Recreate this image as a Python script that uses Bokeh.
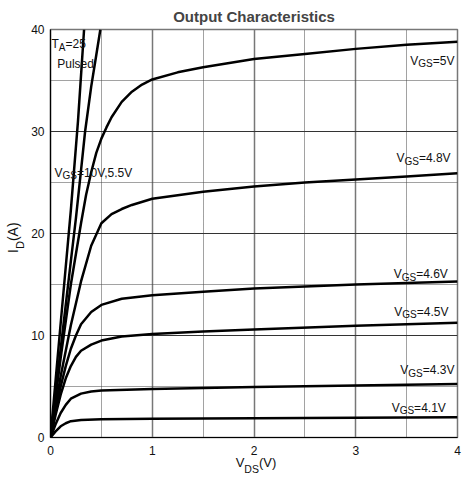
import math
from bokeh.plotting import figure
from bokeh.models import FixedTicker, Label, Range1d, LinearAxis
from bokeh.embed import file_html
from bokeh.resources import INLINE

# ---------------- data ----------------
x_ticks = [0, 1, 2, 3, 4]
x_minor = [0.5, 1.5, 2.5, 3.5]
y_ticks = [0, 10, 20, 30, 40]
y_minor = [5, 15, 25, 35]

vds_10v = [0, 0.1, 0.2, 0.27, 0.33]
id_10v = [0, 11.2, 22.3, 31.0, 40.0]

vds_55v = [0, 0.1, 0.2, 0.25, 0.3, 0.34, 0.4, 0.45, 0.49]
id_55v = [0, 8.7, 17.3, 21.5, 26.2, 30.0, 34.4, 37.5, 40.0]

vds_5v = [0, 0.1, 0.2, 0.3, 0.35, 0.4, 0.45, 0.5, 0.55, 0.6, 0.7, 0.8, 0.9, 1.0,
          1.25, 1.5, 2.0, 2.5, 3.0, 3.5, 4.0]
id_5v = [0, 7.8, 15.0, 21.0, 23.8, 26.0, 27.9, 29.3, 30.4, 31.4, 32.9, 33.9, 34.6, 35.1,
         35.8, 36.3, 37.1, 37.6, 38.1, 38.5, 38.8]

vds_48v = [0, 0.1, 0.2, 0.3, 0.4, 0.5, 0.6, 0.7, 0.8, 1.0, 1.5, 2.0, 2.5, 3.0, 3.5, 4.0]
id_48v = [0, 6.0, 11.0, 15.3, 18.8, 21.0, 21.9, 22.4, 22.8, 23.4, 24.1, 24.6, 25.0, 25.3, 25.6, 25.9]

vds_46v = [0, 0.05, 0.1, 0.15, 0.2, 0.25, 0.3, 0.4, 0.5, 0.7, 1.0, 1.5, 2.0, 3.0, 4.0]
id_46v = [0, 2.6, 5.0, 7.0, 8.7, 10.0, 11.1, 12.3, 13.0, 13.6, 13.95, 14.3, 14.6, 15.0, 15.3]

vds_45v = [0, 0.05, 0.1, 0.15, 0.2, 0.25, 0.3, 0.4, 0.5, 0.7, 1.0, 1.5, 2.0, 3.0, 4.0]
id_45v = [0, 2.2, 4.2, 5.8, 7.0, 7.9, 8.5, 9.1, 9.5, 9.9, 10.15, 10.4, 10.6, 10.95, 11.25]

vds_43v = [0, 0.05, 0.1, 0.15, 0.2, 0.3, 0.4, 0.5, 1.0, 2.0, 3.0, 4.0]
id_43v = [0, 1.3, 2.4, 3.2, 3.8, 4.3, 4.5, 4.6, 4.75, 4.95, 5.1, 5.25]

vds_41v = [0, 0.05, 0.1, 0.15, 0.2, 0.3, 0.5, 1.0, 2.0, 3.0, 4.0]
id_41v = [0, 0.6, 1.1, 1.4, 1.6, 1.72, 1.78, 1.83, 1.88, 1.93, 1.98]

curve_labels = ["=5V", "=4.8V", "=4.6V", "=4.5V", "=4.3V", "=4.1V", "=10V,5.5V"]
label_x = [3.536, 3.40, 3.373, 3.379, 3.438, 3.353, 0.039]
label_y = [36.93, 27.4, 16.0, 12.32, 6.61, 2.94, 25.98]

title_text = "Output Characteristics"
x_title = ("V", "DS", "(V)")
y_title = ("I", "D", "(A)")

# ---------------- figure ----------------
FONT = "Liberation Sans"
FW, FH = 407, 408
p = figure(output_backend="svg", toolbar_location=None,
           frame_width=FW, frame_height=FH,
           min_border_left=50, min_border_right=5, min_border_top=29, min_border_bottom=40,
           x_range=Range1d(0, 4), y_range=Range1d(0, 40),
           background_fill_color="white", border_fill_color="white")
PXX = FW / 4.0   # px per x unit
PXY = FH / 40.0  # px per y unit

p.title.text = title_text
p.title.align = "center"
p.title.text_font = FONT
p.title.text_font_size = "15px"
p.title.text_font_style = "bold"
p.title.standoff = 10

p.outline_line_color = "#777777"
p.outline_line_width = 1.5

W = {"V": .667, "G": .778, "S": .667, "=": .584, ".": .278, ",": .278, "T": .611,
     "A": .667, "D": .722, "I": .278, "(": .333, ")": .333}
for d in "0123456789":
    W[d] = .556


def tw(s, size):
    return sum(W.get(c, .556) for c in s) * size


def plain_axis(ax, size):
    ax.axis_line_color = None
    ax.major_tick_out = 0
    ax.major_tick_in = 0
    ax.minor_tick_out = 0
    ax.minor_tick_in = 0
    ax.major_label_text_font = FONT
    ax.major_label_text_font_size = f"{size}px"
    ax.major_label_text_color = "#111111"


xa = p.xaxis[0]
ya = p.yaxis[0]
plain_axis(xa, 12)
plain_axis(ya, 12)
xa.axis_line_color = "black"
ya.axis_line_color = "black"
xa.axis_line_width = 1.2
ya.axis_line_width = 1.2
xa.ticker = FixedTicker(ticks=x_ticks)
xa.major_label_standoff = 8
ya.ticker = FixedTicker(ticks=y_ticks)
ya.major_label_standoff = 6

p.xgrid[0].ticker = FixedTicker(ticks=x_ticks, minor_ticks=x_minor)
p.ygrid[0].ticker = FixedTicker(ticks=y_ticks, minor_ticks=y_minor)
p.xgrid[0].grid_line_color = "#777777"
p.xgrid[0].grid_line_width = 1.5
p.ygrid[0].grid_line_color = "#333333"
p.ygrid[0].grid_line_width = 1
for g in (p.xgrid[0], p.ygrid[0]):
    g.minor_grid_line_color = "#444444"
    g.minor_grid_line_dash = "1 1"
    g.minor_grid_line_width = 1

# ----- axis titles with subscripts, built from extra label-only axes -----
x0 = 1.82
xs_V = x0 + tw("V", 13) / 2 / PXX
xs_DS = x0 + (tw("V", 13) + tw("DS", 10.5) / 2) / PXX
xs_P = x0 + (tw("V", 13) + tw("DS", 10.5) + tw("(V)", 13) / 2) / PXX
ax_main = LinearAxis(ticker=FixedTicker(ticks=[xs_V, xs_P]),
                     major_label_overrides={xs_V: x_title[0], xs_P: x_title[2]})
plain_axis(ax_main, 13)
ax_main.major_label_standoff = -3
p.add_layout(ax_main, "below")
ax_sub = LinearAxis(ticker=FixedTicker(ticks=[xs_DS]),
                    major_label_overrides={xs_DS: x_title[1]})
plain_axis(ax_sub, 10.5)
ax_sub.major_label_standoff = -10
p.add_layout(ax_sub, "below")

y0 = 18.1
ys_I = y0 + tw("I", 14) / 2 / PXY
ys_D = y0 + (tw("I", 14) + tw("D", 11) / 2) / PXY
ys_P = y0 + (tw("I", 14) + tw("D", 11) + tw("(A)", 14) / 2) / PXY
ay_sub = LinearAxis(ticker=FixedTicker(ticks=[ys_D]),
                    major_label_overrides={ys_D: y_title[1]},
                    major_label_orientation="parallel")
plain_axis(ay_sub, 11)
ay_sub.major_label_standoff = 2
p.add_layout(ay_sub, "left")
ay_main = LinearAxis(ticker=FixedTicker(ticks=[ys_I, ys_P]),
                     major_label_overrides={ys_I: y_title[0], ys_P: y_title[2]},
                     major_label_orientation="parallel")
plain_axis(ay_main, 14)
ay_main.major_label_standoff = -10
p.add_layout(ay_main, "left")

# ---------------- curves ----------------
series = [(vds_10v, id_10v), (vds_55v, id_55v), (vds_5v, id_5v),
          (vds_48v, id_48v), (vds_46v, id_46v), (vds_45v, id_45v), (vds_43v, id_43v),
          (vds_41v, id_41v)]
for xs, ys in series:
    p.line(xs, ys, line_color="black", line_width=2.5, line_join="round")

# ---------------- in-plot texts ----------------
def lab(x, y, text, size, xo=0, yo=0):
    p.add_layout(Label(x=x, y=y, text=text, x_offset=xo, y_offset=yo,
                       text_font=FONT, text_font_size=f"{size}px", text_color="#111111",
                       text_baseline="alphabetic", text_align="left"))


for t, lx, ly in zip(curve_labels, label_x, label_y):
    lab(lx, ly, "V", 12)
    lab(lx, ly, "GS", 10, xo=tw("V", 12), yo=-3)
    lab(lx, ly, t, 12, xo=tw("V", 12) + tw("GS", 10))

lab(0.01, 38.57, "T", 12)
lab(0.01, 38.57, "A", 10, xo=tw("T", 12), yo=-3)
lab(0.01, 38.57, "=25", 12, xo=tw("T", 12) + tw("A", 10))
lab(0.066, 36.6, "Pulsed", 12)

open("out.html", "w").write(file_html(p, INLINE))
